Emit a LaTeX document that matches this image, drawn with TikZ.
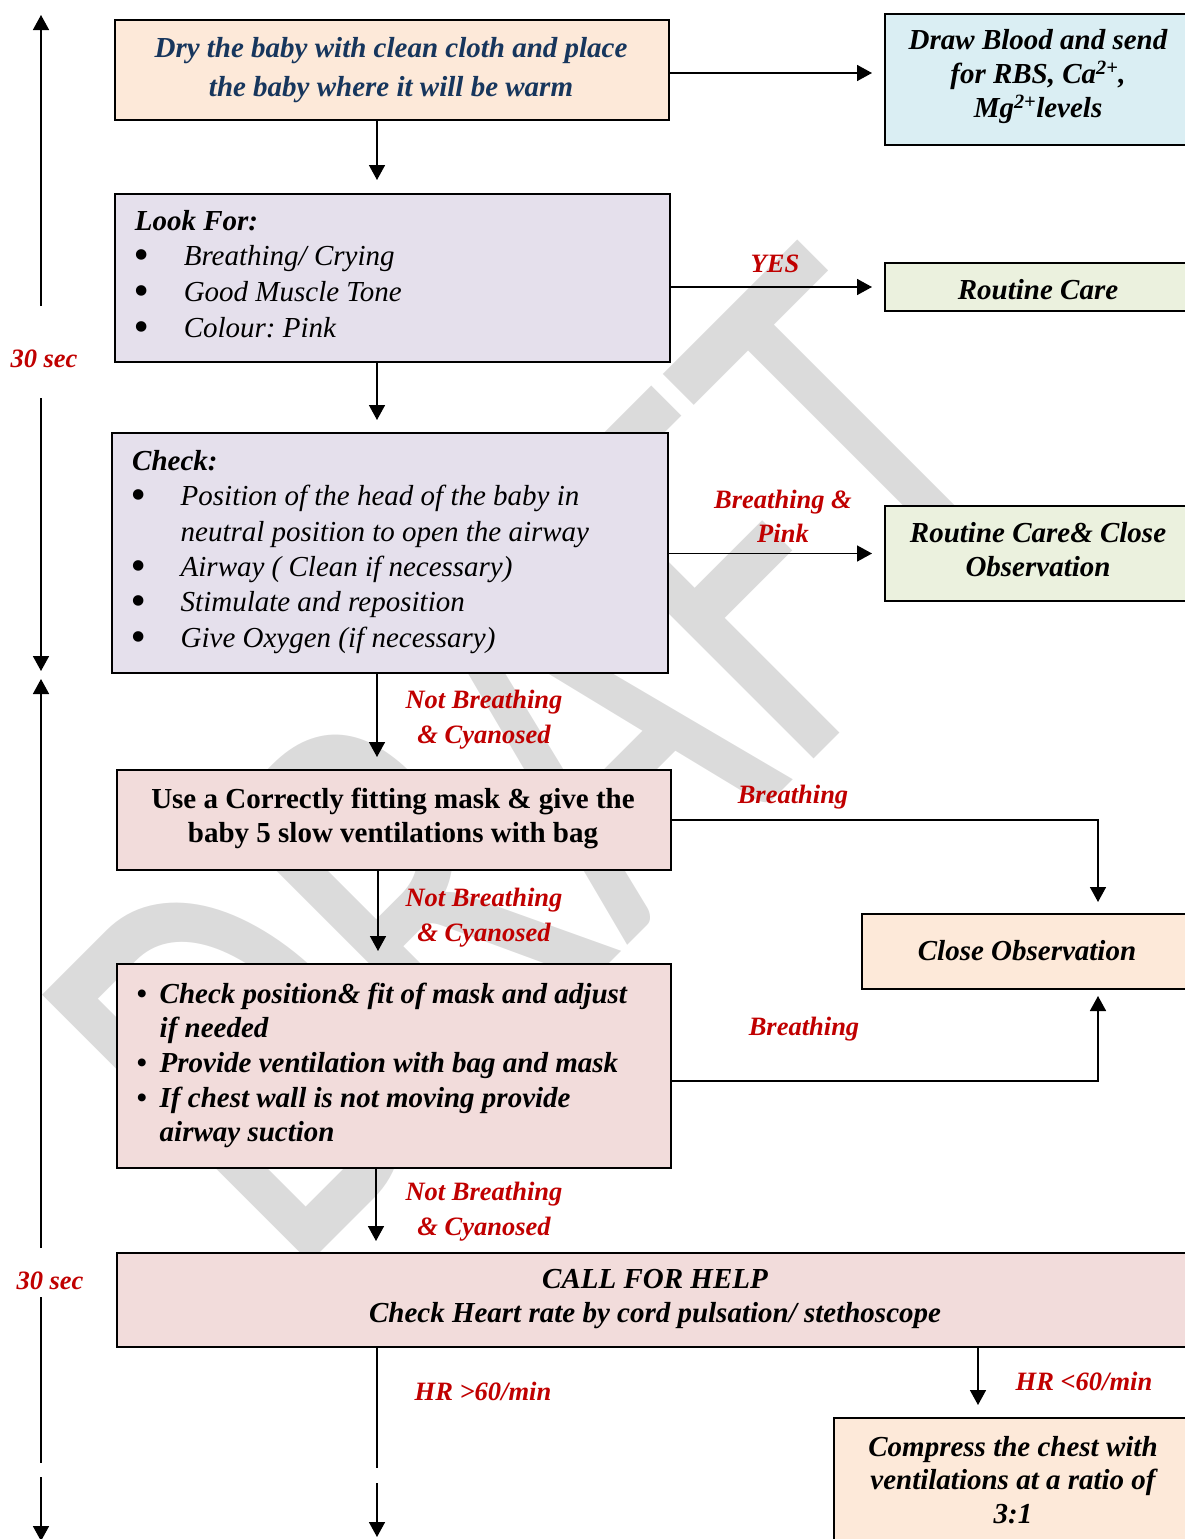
\documentclass[tikz,border=0pt]{standalone}
\usepackage{fontspec}
\setmainfont{Liberation Serif}
\newfontfamily\wmfont{Carlito}
\usetikzlibrary{arrows.meta,calc}
\frenchspacing

\definecolor{peach}{RGB}{253,233,217}
\definecolor{paleblue}{RGB}{218,238,243}
\definecolor{lavender}{RGB}{229,224,236}
\definecolor{paleolive}{RGB}{235,241,222}
\definecolor{rosepink}{RGB}{242,220,219}
\definecolor{navytext}{RGB}{23,54,93}
\definecolor{labelred}{RGB}{192,0,0}
\definecolor{wmgray}{RGB}{219,219,219}

% struts: body text (height 22, depth 8) and labels (height 20, depth 7)
\newcommand\bstrut{\rule[-8pt]{0pt}{30pt}}
\newcommand\rstrut{\rule[-7pt]{0pt}{27pt}}
% large bullet followed by a tab of the given width
\newcommand\bigbul[1]{\makebox[#1][l]{\hspace{-1.5pt}\raisebox{-4pt}{\fontsize{44}{44}\selectfont\textbullet}}}
% small bullet for the bold list
\newcommand\smbul{\makebox[23pt][l]{\textbullet}}

\tikzset{
  flowbox/.style={draw=black, line width=2pt, inner sep=0pt, anchor=north west},
  arr/.style={line width=1.6pt, -{Triangle[length=15pt,width=16pt]}},
  plainline/.style={line width=1.6pt},
  ctext/.style={inner sep=0pt, align=center, anchor=north,
    font=\fontsize{29}{34}\selectfont\bfseries\itshape},
  ltext/.style={inner sep=0pt, align=left, anchor=north west},
  lbl/.style={inner sep=0pt, align=center, anchor=north, text=labelred,
    font=\fontsize{26.5}{34.4}\selectfont\bfseries\itshape},
  lblb/.style={lbl, anchor=base},
}

\begin{document}
\begin{tikzpicture}[x=1pt, y=-1pt]
\useasboundingbox (0,0) rectangle (1184,1539);

% background watermark, narrowed and set on the diagonal
\node[rotate=45, xscale=0.695, anchor=base west, inner sep=0pt, text=wmgray,
      font=\wmfont\fontsize{590}{590}\selectfont] (wm) at (290.5,1282.5) {DRAFT};

% boxes
\node[flowbox, fill=peach,     minimum width=554pt,  minimum height=100pt] (dry)      at (114,19)   {};
\node[flowbox, fill=paleblue,  minimum width=308pt,  minimum height=131pt] (blood)    at (884,13)   {};
\node[flowbox, fill=lavender,  minimum width=555pt,  minimum height=168pt] (look)     at (114,193)  {};
\node[flowbox, fill=paleolive, minimum width=308pt,  minimum height=48pt]  (routine)  at (884,262)  {};
\node[flowbox, fill=lavender,  minimum width=556pt,  minimum height=240pt] (check)    at (111,432)  {};
\node[flowbox, fill=paleolive, minimum width=308pt,  minimum height=95pt]  (rcco)     at (884,505)  {};
\node[flowbox, fill=rosepink,  minimum width=554pt,  minimum height=100pt] (mask)     at (116,769)  {};
\node[flowbox, fill=peach,     minimum width=332pt,  minimum height=75pt]  (closeobs) at (861,913)  {};
\node[flowbox, fill=rosepink,  minimum width=554pt,  minimum height=204pt] (vent)     at (116,963)  {};
\node[flowbox, fill=rosepink,  minimum width=1078pt, minimum height=94pt]  (callhelp) at (116,1252) {};
\node[flowbox, fill=peach,     minimum width=360pt,  minimum height=160pt] (compress) at (833,1417) {};

% box texts
\node[ctext, text=navytext, font=\fontsize{29}{39}\selectfont\bfseries\itshape] (drytext) at (391,35)
  {\bstrut Dry the baby with clean cloth and place\\\bstrut the baby where it will be warm};
\node[ctext] (bloodtext) at (1038,27)
  {\bstrut Draw Blood and send\\\bstrut for RBS, Ca\textsuperscript{2+},\\\bstrut Mg\textsuperscript{2+}levels};
\node[ltext, font=\fontsize{29}{35.7}\selectfont\itshape] (looktext) at (134.6,208)
  {\bstrut{\bfseries Look For:}\\
   \bstrut\bigbul{49pt}Breathing/ Crying\\
   \bstrut\bigbul{49pt}Good Muscle Tone\\
   \bstrut\bigbul{49pt}Colour: Pink};
\node[ctext, anchor=base] (routinetext) at (1038,299) {Routine Care};
\node[ltext, font=\fontsize{29}{35.4}\selectfont\itshape] (checktext) at (132,448)
  {\bstrut{\bfseries Check:}\\
   \bstrut\bigbul{48.5pt}Position of the head of the baby in\\
   \bstrut\hspace*{48.5pt}neutral position to open the airway\\
   \bstrut\bigbul{48.5pt}Airway ( Clean if necessary)\\
   \bstrut\bigbul{48.5pt}Stimulate and reposition\\
   \bstrut\bigbul{48.5pt}Give Oxygen (if necessary)};
\node[ctext] (rccotext) at (1038,520)
  {\bstrut Routine Care\& Close\\\bstrut Observation};
\node[ctext, font=\fontsize{29}{34}\selectfont\bfseries] (masktext) at (393,786)
  {\bstrut Use a Correctly fitting mask \& give the\\\bstrut baby 5 slow ventilations with bag};
\node[ctext, anchor=base] (closetext) at (1027,960) {Close Observation};
\node[ltext, font=\fontsize{29}{34.6}\selectfont\bfseries\itshape] (venttext) at (136.5,981)
  {\bstrut\smbul Check position\& fit of mask and adjust\\
   \bstrut\hspace*{23pt}if needed\\
   \bstrut\smbul Provide ventilation with bag and mask\\
   \bstrut\smbul If chest wall is not moving provide\\
   \bstrut\hspace*{23pt}airway suction};
\node[ctext] (calltext) at (655,1266)
  {\bstrut CALL FOR HELP\\\bstrut Check Heart rate by cord pulsation/ stethoscope};
\node[ctext, font=\fontsize{29}{33.5}\selectfont\bfseries\itshape] (compresstext) at (1013,1434)
  {\bstrut Compress the chest with\\\bstrut ventilations at a ratio of\\\bstrut 3:1};

% connectors between boxes
\draw[arr] ($(dry.east)+(0,3)$) -- ($(blood.west|-dry.east)+(-12,3)$);
\draw[arr] ($(dry.south west)+(263,0)$) -- ($(look.north west)+(263,-13)$);
\draw[arr] (look.east|-routine.west) -- ($(routine.west)+(-12,0)$);
\draw[arr] ($(look.south west)+(263,0)$) -- ($(check.north west)+(266,-12)$);
\draw[arr] (check.east|-rcco.west) -- ($(rcco.west)+(-12,0)$);
\draw[arr] ($(check.south west)+(266,0)$) -- ($(mask.north west)+(261,-12)$);
\draw[arr] (mask.east) -| ($(closeobs.north west)+(237,-11)$);
\draw[arr] ($(mask.south west)+(262,0)$) -- ($(vent.north west)+(262,-12)$);
\draw[arr] ($(vent.east)+(0,15)$) -| ($(closeobs.south west)+(237,6)$);
\draw[arr] ($(vent.south west)+(260,0)$) -- ($(callhelp.north west)+(260,-11)$);
\draw[arr] ($(callhelp.south west)+(862,0)$) -- ($(compress.north west)+(145,-12)$);

% continuation at the foot of the page
\coordinate (brk1) at (377,1468);
\coordinate (brk2) at (377,1483);
\coordinate (pageend) at (377,1537);
\draw[plainline] ($(callhelp.south west)+(261,0)$) -- (brk1);
\draw[arr] (brk2) -- (pageend);

% branch labels
\node[lblb] (yes) at (775,272) {YES};
\node[lbl] (bpink) at (783,488) {\rstrut Breathing \&\\\rstrut Pink};
\node[lbl] (nb1) at (484,688.4) {\rstrut Not Breathing\\\rstrut \& Cyanosed};
\node[lblb] (br1) at (793,803) {Breathing};
\node[lbl] (nb2) at (484,886.5) {\rstrut Not Breathing\\\rstrut \& Cyanosed};
\node[lblb] (br2) at (804,1035) {Breathing};
\node[lbl] (nb3) at (484,1180.5) {\rstrut Not Breathing\\\rstrut \& Cyanosed};
\node[lblb] (hrhigh) at (483,1400) {HR >60/min};
\node[lblb] (hrlow) at (1084,1390) {HR <60/min};

% time scale on the left
\node[lblb] (sec1) at (44,367) {30 sec};
\node[lblb] (sec2) at (50,1289) {30 sec};
\coordinate (t1a) at (41,306);  \coordinate (t1b) at (41,15);
\coordinate (t2a) at (41,398);  \coordinate (t2b) at (41,671);
\coordinate (t3a) at (41,1248); \coordinate (t3b) at (41,679);
\coordinate (t4a) at (41,1297); \coordinate (t4b) at (41,1463);
\coordinate (t4c) at (41,1477); \coordinate (t4d) at (41,1541);
\draw[arr] (t1a) -- (t1b);
\draw[arr] (t2a) -- (t2b);
\draw[arr] (t3a) -- (t3b);
\draw[plainline] (t4a) -- (t4b);
\draw[arr] (t4c) -- (t4d);
\end{tikzpicture}
\end{document}
